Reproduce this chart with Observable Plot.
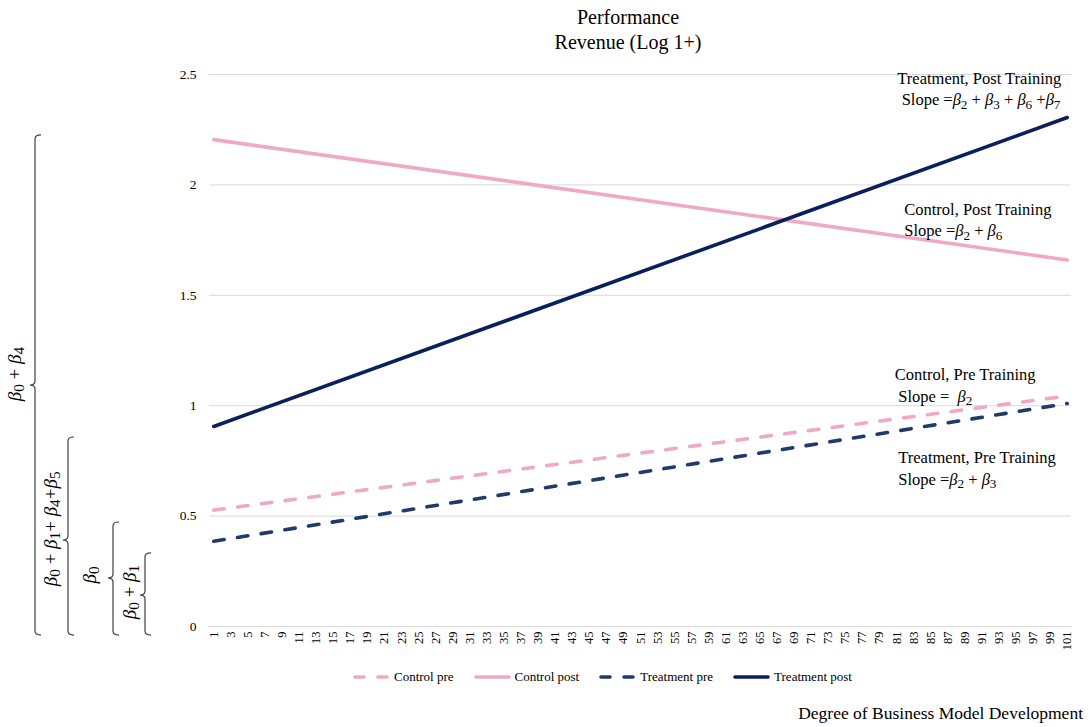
<!DOCTYPE html>
<html><head><meta charset="utf-8">
<script src="https://cdn.jsdelivr.net/npm/d3@7"></script>
<script src="https://cdn.jsdelivr.net/npm/@observablehq/plot@0.6"></script>
<style>
body{margin:0;background:#fff;}
#wrap{position:relative;width:1091px;height:727px;font-family:"Liberation Serif","Times New Roman",serif;color:#000;overflow:hidden;}
#wrap svg.plot{position:absolute;left:0;top:0;font-family:"Liberation Serif","Times New Roman",serif;}
#wrap svg.plot text{font-family:"Liberation Serif","Times New Roman",serif;}
#title{position:absolute;left:478px;width:300px;top:5px;text-align:center;font-size:20px;line-height:25px;}
#legend{position:absolute;left:353px;top:669px;display:flex;gap:20px;font-size:13px;align-items:center;}
#legend .item{display:flex;align-items:center;}
#legend svg{margin-right:4px;}
#xtitle{position:absolute;right:8px;top:703px;font-size:17.5px;}
</style></head>
<body>
<div id="wrap">
  <div id="title">Performance<br>Revenue (Log 1+)</div>
  <div id="legend"></div>
  <div id="xtitle">Degree of Business Model Development</div>
</div>
<script>
// ---- data ----
const xEnds = [1, 101];
const seriesNames = ["Control pre", "Control post", "Treatment pre", "Treatment post"];
const controlPre = [0.527, 1.044];
const controlPost = [2.205, 1.66];
const treatmentPre = [0.386, 1.01];
const treatmentPost = [0.906, 2.305];
const xTicks = [1,3,5,7,9,11,13,15,17,19,21,23,25,27,29,31,33,35,37,39,41,43,45,47,49,51,53,55,57,59,61,63,65,67,69,71,73,75,77,79,81,83,85,87,89,91,93,95,97,99,101];
const yTicks = [0, 0.5, 1, 1.5, 2, 2.5];
const annLines = ["Treatment, Post Training", "Slope =β2 + β3 + β6 +β7", "Control, Post Training", "Slope =β2 + β6", "Control, Pre Training", "Slope =  β2", "Treatment, Pre Training", "Slope =β2 + β3"];
const annX = [90.7, 90.9, 81.9, 81.9, 80.8, 81.2, 81.2, 81.2];
const annY = [2.482, 2.385, 1.889, 1.793, 1.141, 1.042, 0.765, 0.666];
const braceLabels = ["β0 + β4", "β0 + β1+ β4+β5", "β0", "β0 + β1"];
const braceTop = [2.224, 0.856, 0.471, 0.331];
const braceTip = [1.091, 0.389, 0.217, 0.140];
const braceBottom = [-0.041, -0.041, -0.041, -0.041];
const braceLabelY = [1.141, 0.44, 0.231, 0.154];

// ---- styles ----
const styles = {
  "Control pre":    {stroke: "#EFA9C4", dash: "10.5,13.5"},
  "Control post":   {stroke: "#EFA9C4", dash: null},
  "Treatment pre":  {stroke: "#1F3A6B", dash: "10.5,13.5"},
  "Treatment post": {stroke: "#0B1F5C", dash: null}
};
const seriesValues = [controlPre, controlPost, treatmentPre, treatmentPost];
const rows = seriesNames.flatMap((name, i) => xEnds.map((x, j) => ({series: name, x, y: seriesValues[i][j]})));
const ann = annLines.map((t, i) => ({text: t, x: annX[i], y: annY[i], mid: i < 2}));
const FS = 16.5;

const plot = Plot.plot({
  width: 1091, height: 727,
  marginTop: 74, marginBottom: 101, marginLeft: 209, marginRight: 20,
  style: {fontFamily: "'Liberation Serif','Times New Roman',serif", background: "transparent", color: "#000"},
  x: {type: "linear", domain: [0.5, 101.5]},
  y: {domain: [0, 2.5]},
  marks: [
    Plot.gridY(yTicks, {stroke: "#d9d9d9", strokeOpacity: 1, strokeWidth: 1}),
    Plot.axisY(yTicks, {tickSize: 0, tickPadding: 13, tickFormat: d => String(d), label: null}),
    Plot.axisX(xTicks, {tickSize: 0, tickPadding: 5, tickRotate: -90, tickFormat: d => String(d), label: null}),
    ...seriesNames.map(name => Plot.line(rows.filter(r => r.series === name), {
      x: "x", y: "y", stroke: styles[name].stroke, strokeWidth: 3.6,
      strokeDasharray: styles[name].dash || undefined, strokeLinecap: "round"
    })),
    Plot.text(ann.filter(d => d.mid), {x: "x", y: "y", text: "text", textAnchor: "middle", fontSize: FS}),
    Plot.text(ann.filter(d => !d.mid), {x: "x", y: "y", text: "text", textAnchor: "start", fontSize: FS})
  ]
});
plot.classList.add("plot");
document.getElementById("wrap").prepend(plot);

const svg = d3.select(plot);
svg.selectAll('g[aria-label="y-axis tick label"]').attr("font-size", 13.5);
svg.selectAll('g[aria-label="x-axis tick label"]').attr("font-size", 12.5);

// rich text with italic beta and subscript digits
function richText(el, str, fs) {
  const sel = d3.select(el);
  sel.text(null).style("white-space", "pre");
  const parts = str.split(/(β\d)/).filter(p => p !== "");
  let pending = 0;
  const sh = fs * 0.22;
  parts.forEach(p => {
    const m = p.match(/^β(\d)$/);
    if (m) {
      const t1 = sel.append("tspan").attr("font-style", "italic").text("β");
      if (pending) { t1.attr("dy", pending); pending = 0; }
      sel.append("tspan").attr("font-size", fs * 0.8).attr("dy", sh).text(m[1]);
      pending = -sh;
    } else {
      const t = sel.append("tspan").text(p);
      if (pending) { t.attr("dy", pending); pending = 0; }
    }
  });
}
svg.selectAll('g[aria-label="text"] text').each(function() {
  const s = this.textContent;
  if (s.includes("β")) richText(this, s, FS);
});

// braces in left margin
const ys = plot.scale("y");
const braceX = [35, 68, 113, 145];
const braceTextX = [14, 50, 89, 129];
const braceFS = [19, 19, 19, 19];
const g = svg.append("g").attr("fill", "none").attr("stroke", "#404040").attr("stroke-width", 1.2);
braceLabels.forEach((lab, i) => {
  const x = braceX[i], t = ys.apply(braceTop[i]), m = ys.apply(braceTip[i]), b = ys.apply(braceBottom[i]);
  const r = 4;
  const d = `M${x + 6},${t} Q${x},${t} ${x},${t + r} L${x},${m - r} Q${x},${m} ${x - 5},${m} Q${x},${m} ${x},${m + r} L${x},${b - r} Q${x},${b} ${x + 6},${b}`;
  g.append("path").attr("d", d);
  const ty = ys.apply(braceLabelY[i]);
  const txt = svg.append("text")
    .attr("transform", `translate(${braceTextX[i]},${ty}) rotate(-90)`)
    .attr("text-anchor", "middle").attr("dominant-baseline", "central")
    .attr("font-size", braceFS[i]).attr("fill", "#000");
  richText(txt.node(), lab, braceFS[i]);
});

// legend
const leg = d3.select("#legend");
seriesNames.forEach(name => {
  const it = leg.append("div").attr("class", "item");
  const s = it.append("svg").attr("width", 37).attr("height", 10);
  s.append("line").attr("x1", 2).attr("x2", 35).attr("y1", 5).attr("y2", 5)
    .attr("stroke", styles[name].stroke).attr("stroke-width", 3.6).attr("stroke-linecap", "round")
    .attr("stroke-dasharray", styles[name].dash ? "9,14" : null);
  it.append("span").text(name);
});
</script>
</body></html>
